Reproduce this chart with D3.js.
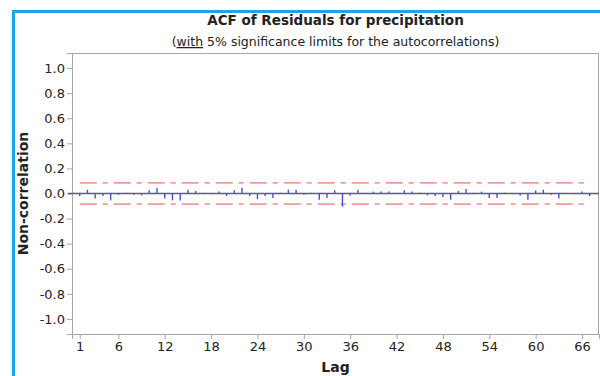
<!DOCTYPE html>
<html>
<head>
<meta charset="utf-8">
<script src="https://cdn.jsdelivr.net/npm/d3@7"></script>
<style>
  body { margin: 0; background: #fff; }
  svg { display: block; }
  text { font-family: "DejaVu Sans", Verdana, sans-serif; fill: #222; }
</style>
</head>
<body>
<div id="canvas"></div>
<script>
// lags and autocorrelation values
var lags = d3.range(1, 68);
var acf = [
  -0.02, 0.03, -0.04, -0.02, -0.055, -0.01, 0.005, -0.01, -0.015, 0.025,
  0.045, -0.04, -0.055, -0.055, 0.03, 0.02, 0.005, -0.005, 0.015, -0.02,
  0.025, 0.045, -0.02, -0.045, -0.02, -0.035, 0.005, 0.03, 0.03, -0.01,
  0.005, -0.05, -0.035, 0.025, -0.105, -0.015, 0.03, 0.005, 0.015, 0.015,
  0.015, 0.005, 0.025, 0.015, 0.005, -0.015, -0.02, -0.03, -0.05, 0.02,
  0.035, 0.005, 0.015, -0.035, -0.035, 0.005, -0.005, -0.015, -0.05, 0.025,
  0.03, -0.01, -0.04, 0.005, -0.005, 0.015, -0.02
];
var upperLimit = 0.085;
var lowerLimit = -0.085;
var xTicks = [1, 6, 12, 18, 24, 30, 36, 42, 48, 54, 60, 66];
var yTicks = [1.0, 0.8, 0.6, 0.4, 0.2, 0.0, -0.2, -0.4, -0.6, -0.8, -1.0];

var width = 600, height = 376;
var margin = {top: 53, right: 1, bottom: 42, left: 72};
var plotW = width - margin.left - margin.right,
    plotH = height - margin.top - margin.bottom;

var fmt = d3.formatLocale({decimal: '.', thousands: ',', grouping: [3], currency: ['', ''], minus: '-'}).format('.1f');

var svg = d3.select('#canvas').append('svg')
    .attr('width', width)
    .attr('height', height);

// blue frame of the screenshot
svg.append('path')
    .attr('d', 'M13.5,376 L13.5,11.5 L600,11.5')
    .attr('fill', 'none')
    .attr('stroke', '#1ba6e9')
    .attr('stroke-width', 3);

var x = d3.scaleLinear().domain([0, 68.2]).range([0, plotW]);
var y = d3.scaleLinear().domain([-1.12, 1.12]).range([plotH, 0]);

var g = svg.append('g')
    .attr('transform', 'translate(' + margin.left + ',' + margin.top + ')');

g.append('rect')
    .attr('x', 0.5).attr('y', 0.5)
    .attr('width', plotW - 1).attr('height', plotH)
    .attr('fill', 'none')
    .attr('stroke', '#a6a6a6');

var yAxis = g.append('g')
    .call(d3.axisLeft(y).tickValues(yTicks).tickFormat(fmt).tickSize(5).tickPadding(2));
var xAxis = g.append('g')
    .attr('transform', 'translate(0,' + plotH + ')')
    .call(d3.axisBottom(x).tickValues(xTicks).tickSize(5).tickPadding(3));

[yAxis, xAxis].forEach(function (a) {
    a.select('.domain').attr('stroke', '#a6a6a6');
    a.selectAll('.tick line').attr('stroke', '#a6a6a6');
    a.selectAll('.tick text').attr('font-size', 13).attr('fill', '#1a1a1a')
        .attr('font-family', '"DejaVu Sans", Verdana, sans-serif');
});

// zero reference line
g.append('line')
    .attr('x1', -4).attr('x2', plotW)
    .attr('y1', y(0)).attr('y2', y(0))
    .attr('stroke', '#5e6070')
    .attr('stroke-width', 1.3);

// significance limits
[upperLimit, lowerLimit].forEach(function (v) {
    g.append('line')
        .attr('x1', x(lags[0])).attr('x2', x(lags[lags.length - 1]))
        .attr('y1', y(v)).attr('y2', y(v))
        .attr('stroke', '#f29a9a')
        .attr('stroke-width', 1.8)
        .attr('stroke-dasharray', '17,6,5,6');
});

// acf spikes
g.selectAll('line.spike')
    .data(lags)
    .enter().append('line')
    .attr('class', 'spike')
    .attr('x1', function (d) { return x(d); })
    .attr('x2', function (d) { return x(d); })
    .attr('y1', y(0))
    .attr('y2', function (d, i) { return y(acf[i]); })
    .attr('stroke', '#4c4ce0')
    .attr('stroke-width', 1.4);

// titles
svg.append('text')
    .attr('x', margin.left + plotW / 2).attr('y', 25)
    .attr('text-anchor', 'middle')
    .attr('font-size', 13.5).attr('font-weight', 'bold')
    .text('ACF of Residuals for precipitation');

var sub = svg.append('text')
    .attr('x', margin.left + plotW / 2).attr('y', 46)
    .attr('text-anchor', 'middle')
    .attr('font-size', 12.5);
sub.append('tspan').text('(');
sub.append('tspan').attr('text-decoration', 'underline').text('with');
sub.append('tspan').text(' 5% significance limits for the autocorrelations)');

svg.append('text')
    .attr('x', margin.left + plotW / 2).attr('y', 372)
    .attr('text-anchor', 'middle')
    .attr('font-size', 14).attr('font-weight', 'bold')
    .text('Lag');

svg.append('text')
    .attr('transform', 'translate(28,' + (margin.top + plotH / 2) + ') rotate(-90)')
    .attr('text-anchor', 'middle')
    .attr('font-size', 14).attr('font-weight', 'bold')
    .text('Non-correlation');
</script>
</body>
</html>
